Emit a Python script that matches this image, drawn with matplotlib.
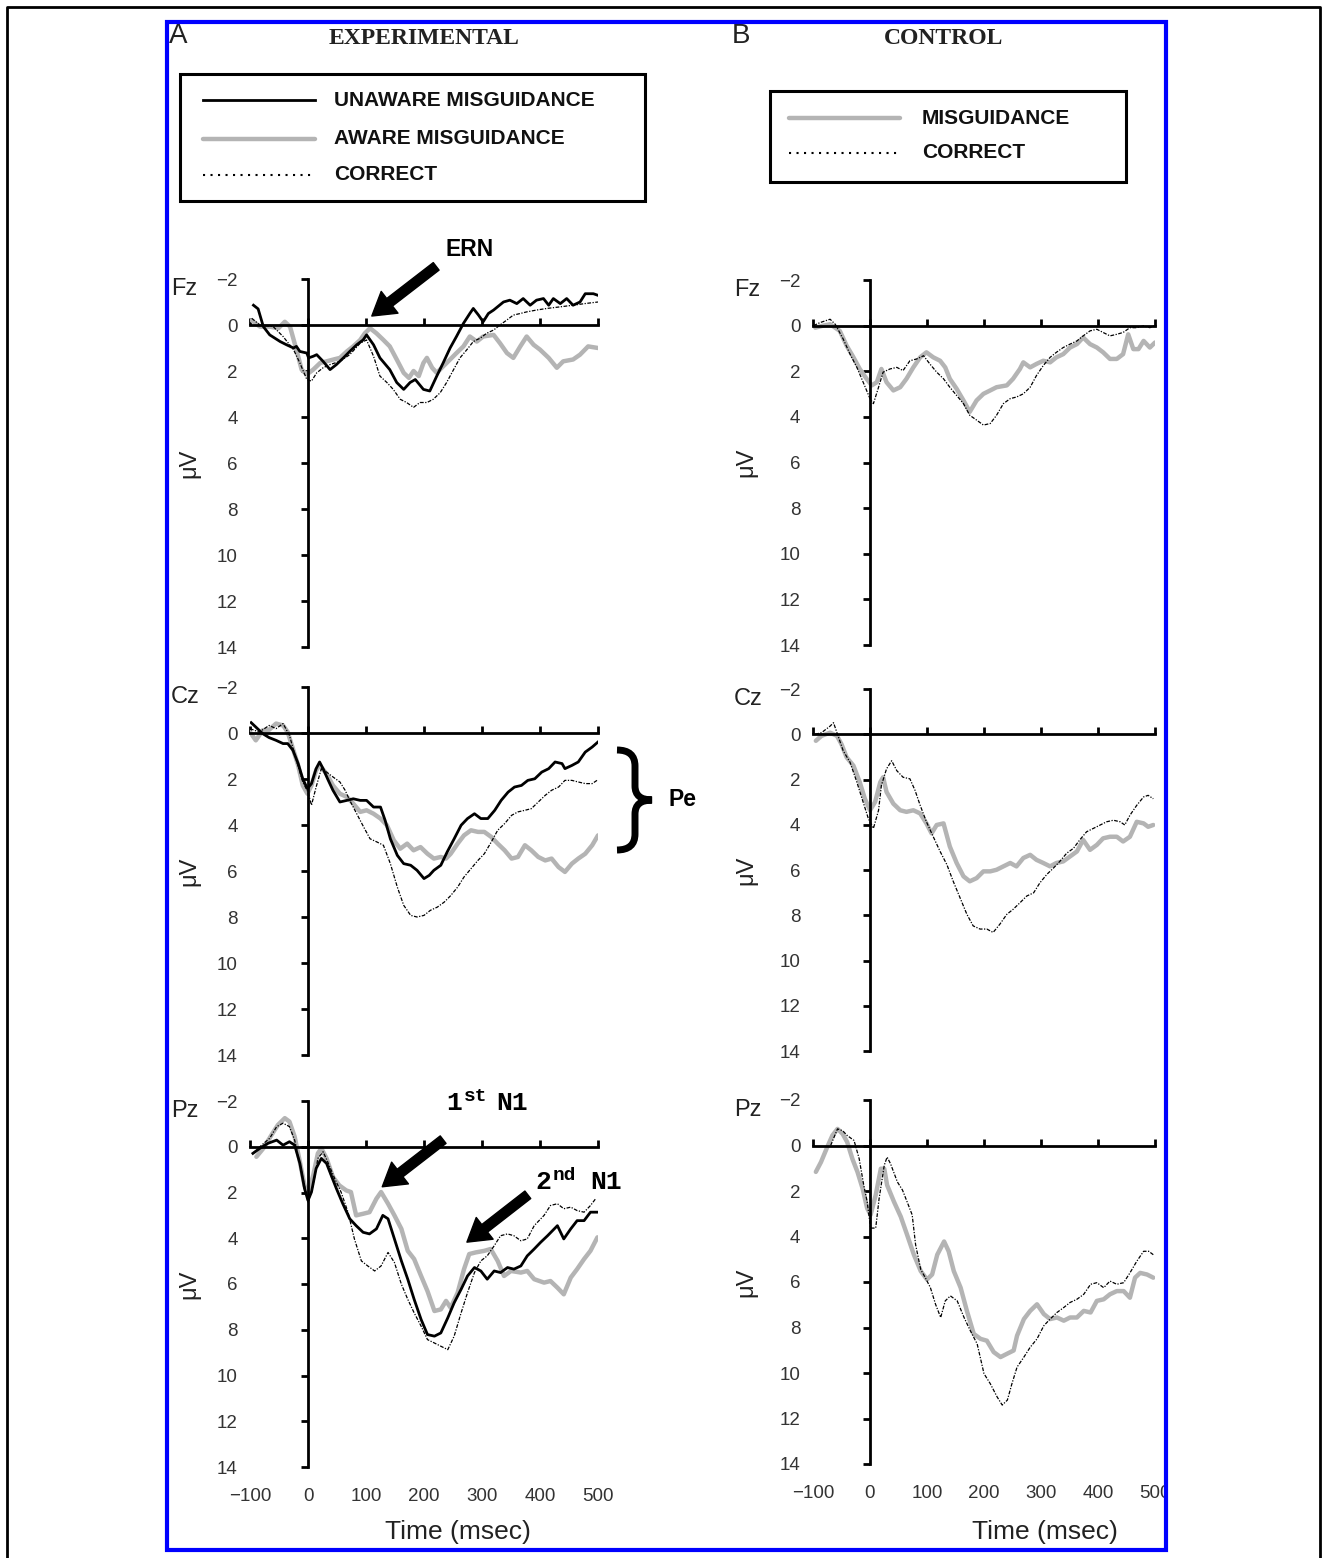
import numpy as np
import matplotlib
matplotlib.use("Agg")
import matplotlib.pyplot as plt
from matplotlib import transforms as mtransforms
from matplotlib.patches import Rectangle, PathPatch
from matplotlib.path import Path
from matplotlib.lines import Line2D

plt.rcParams['font.family'] = ['Liberation Sans', 'DejaVu Sans']

# ---- data: (time in ms, amplitude in uV) ----
x_ticks = [-100, 0, 100, 200, 300, 400, 500]
y_ticks = [-2, 0, 2, 4, 6, 8, 10, 12, 14]

fz_exp_unaware = np.array([(-94,-0.86),(-86,-0.7),(-77,0.07),(-66,0.43),(-48,0.72),(-37,0.86),(-25,1.0),(-20,0.93),(-14,1.15),(-2,1.22),(1,1.43),(9,1.36),(15,1.29),(26,1.58),(38,1.94),(49,1.72),(61,1.43),(72,1.15),(84,0.86),(95,0.65),(101,0.43),(113,0.86),(124,1.43),(141,1.94),(153,2.5),(165,2.8),(176,2.5),(185,2.37),(199,2.8),(210,2.87),(222,2.22),(233,1.65),(245,1.0),(256,0.5),(268,-0.07),(279,-0.5),(285,-0.72),(294,-0.43),(302,-0.14),(311,-0.5),(320,-0.65),(337,-1.0),(348,-1.08),(360,-0.93),(371,-1.15),(383,-0.86),(394,-1.08),(406,-1.15),(415,-0.86),(423,-1.15),(435,-0.93),(446,-1.15),(457,-0.86),(469,-1.0),(478,-1.36),(492,-1.36),(500,-1.29)])
fz_exp_aware = np.array([(-97,-0.2),(-83,0.07),(-66,0.07),(-51,0.14),(-40,-0.14),(-31,0.07),(-20,1.07),(-11,1.94),(-2,2.15),(9,1.94),(21,1.65),(32,1.58),(44,1.5),(55,1.43),(67,1.15),(78,0.93),(90,0.65),(98,0.36),(107,0.14),(118,0.36),(130,0.65),(141,0.93),(153,1.5),(165,2.08),(174,2.3),(182,2.0),(191,2.22),(199,1.65),(205,1.43),(214,1.86),(222,2.08),(233,1.8),(245,1.5),(256,1.22),(268,0.93),(279,0.5),(291,0.72),(302,0.5),(320,0.43),(331,0.79),(343,1.22),(354,1.43),(366,0.93),(377,0.5),(389,0.86),(400,1.07),(415,1.43),(429,1.86),(440,1.58),(457,1.5),(469,1.29),(483,0.93),(500,1.0)])
fz_exp_correct = np.array([(-97,-0.29),(-83,0.0),(-60,0.07),(-43,0.5),(-25,1.07),(-14,1.65),(-2,2.37),(6,2.44),(15,2.08),(26,1.86),(38,1.72),(55,1.58),(72,1.29),(90,0.79),(101,0.65),(113,1.36),(124,2.22),(136,2.5),(147,2.8),(159,3.23),(170,3.37),(182,3.58),(193,3.37),(205,3.37),(216,3.23),(228,2.94),(239,2.5),(251,1.94),(262,1.43),(274,1.07),(285,0.72),(297,0.57),(308,0.36),(320,0.22),(331,0.0),(343,-0.22),(354,-0.43),(366,-0.5),(377,-0.57),(394,-0.65),(412,-0.72),(435,-0.79),(457,-0.86),(477,-0.93),(500,-1.0)])

fz_ctrl_mis = np.array([(-96,0.09),(-82,0.0),(-70,-0.06),(-53,0.23),(-41,0.88),(-29,1.39),(-18,1.9),(-6,2.33),(3,2.62),(12,2.48),(20,1.9),(29,2.48),(41,2.84),(53,2.7),(64,2.33),(76,1.83),(88,1.39),(99,1.17),(111,1.39),(123,1.54),(132,1.83),(140,2.33),(152,2.77),(164,3.28),(175,3.78),(187,3.28),(199,2.99),(211,2.84),(222,2.7),(240,2.62),(251,2.33),(263,1.9),(269,1.61),(281,1.83),(292,1.68),(304,1.54),(316,1.61),(327,1.39),(339,1.25),(351,0.96),(363,0.81),(374,0.52),(386,0.81),(398,0.96),(409,1.17),(421,1.46),(433,1.46),(444,1.25),(453,0.38),(462,1.03),(471,1.03),(480,0.67),(491,0.96),(500,0.74)])
fz_ctrl_correct = np.array([(-99,0.0),(-88,-0.13),(-70,-0.28),(-61,-0.06),(-47,0.59),(-35,1.25),(-23,1.83),(-12,2.48),(0,3.2),(6,3.42),(15,2.7),(23,2.04),(35,1.9),(47,1.83),(58,1.97),(70,1.54),(82,1.46),(94,1.32),(105,1.68),(117,2.04),(129,2.33),(140,2.7),(152,3.06),(164,3.42),(175,3.93),(187,4.14),(199,4.36),(211,4.29),(222,3.93),(234,3.42),(246,3.2),(257,3.13),(269,2.99),(281,2.7),(292,2.19),(304,1.75),(316,1.39),(327,1.17),(339,0.96),(351,0.81),(363,0.67),(374,0.45),(386,0.23),(398,0.16),(409,0.3),(421,0.45),(433,0.38),(444,0.3),(456,0.09),(468,0.09),(480,0.01),(491,0.09),(500,0.0)])

cz_exp_unaware = np.array([(-98,-0.45),(-90,-0.26),(-78,0.03),(-67,0.2),(-55,0.32),(-43,0.46),(-35,0.46),(-26,0.75),(-17,1.33),(-9,1.99),(-1,2.42),(6,2.2),(14,1.55),(20,1.26),(26,1.55),(35,2.06),(43,2.49),(55,3.0),(67,2.93),(78,2.86),(90,2.93),(101,2.93),(113,3.22),(125,3.22),(133,3.8),(142,4.6),(154,5.32),(165,5.68),(177,5.75),(188,5.97),(200,6.33),(209,6.19),(217,5.97),(229,5.75),(240,5.17),(252,4.6),(264,4.01),(275,3.72),(287,3.51),(298,3.72),(310,3.72),(322,3.36),(333,2.93),(345,2.57),(356,2.35),(368,2.28),(379,2.06),(391,1.99),(403,1.7),(415,1.55),(426,1.26),(438,1.33),(443,1.55),(455,1.41),(466,1.26),(478,0.83),(490,0.61),(500,0.39)])
cz_exp_aware = np.array([(-100,-0.04),(-90,0.32),(-78,-0.12),(-67,-0.14),(-55,-0.41),(-43,-0.33),(-35,-0.04),(-26,0.68),(-17,1.41),(-9,2.28),(-1,2.64),(6,2.28),(14,1.62),(20,1.41),(32,1.77),(43,2.28),(55,2.64),(67,2.78),(78,3.07),(90,3.43),(101,3.36),(113,3.51),(125,3.72),(136,4.01),(148,4.67),(159,5.03),(171,4.81),(182,5.1),(194,4.96),(206,5.25),(217,5.46),(229,5.39),(238,5.46),(246,5.25),(258,4.81),(269,4.45),(281,4.23),(293,4.3),(304,4.3),(316,4.52),(327,4.81),(339,5.1),(351,5.46),(362,5.39),(374,4.88),(385,5.1),(397,5.39),(409,5.54),(420,5.46),(432,5.83),(443,6.04),(455,5.68),(466,5.46),(478,5.25),(490,4.88),(500,4.45)])
cz_exp_correct = np.array([(-100,-0.19),(-84,-0.04),(-67,-0.33),(-55,-0.19),(-43,-0.41),(-32,0.1),(-20,1.19),(-9,2.13),(0,2.57),(6,3.14),(14,2.35),(23,1.55),(32,1.7),(43,1.91),(55,2.13),(64,2.49),(72,2.93),(84,3.51),(96,4.09),(107,4.6),(119,4.74),(130,4.88),(142,5.68),(154,6.7),(165,7.49),(177,7.93),(188,8.0),(200,7.93),(211,7.71),(223,7.57),(235,7.35),(246,7.07),(258,6.7),(269,6.26),(281,5.9),(293,5.54),(304,5.25),(316,4.74),(327,4.23),(339,3.94),(351,3.58),(362,3.43),(374,3.36),(385,3.29),(397,3.0),(409,2.71),(420,2.49),(432,2.35),(443,2.06),(455,2.06),(466,2.13),(478,2.2),(490,2.2),(500,2.03)])

cz_ctrl_mis = np.array([(-95,0.29),(-85,0.07),(-70,-0.07),(-58,0.07),(-50,0.44),(-41,1.02),(-29,1.39),(-18,2.12),(-9,2.85),(0,3.36),(9,2.99),(18,2.12),(23,1.9),(29,2.55),(41,3.07),(53,3.36),(64,3.43),(76,3.36),(88,3.5),(99,3.94),(108,4.38),(117,4.01),(129,3.94),(140,4.96),(152,5.69),(164,6.28),(175,6.5),(187,6.36),(199,6.06),(211,6.06),(222,5.99),(234,5.84),(246,5.69),(257,5.84),(269,5.47),(281,5.33),(292,5.55),(304,5.69),(316,5.84),(327,5.69),(339,5.62),(351,5.4),(363,5.18),(374,4.67),(386,5.11),(398,4.89),(409,4.6),(421,4.53),(433,4.53),(444,4.74),(456,4.53),(468,3.87),(480,3.94),(488,4.09),(497,4.01)])
cz_ctrl_correct = np.array([(-96,0.0),(-85,-0.07),(-70,-0.36),(-64,-0.51),(-58,-0.07),(-47,0.73),(-35,1.24),(-23,2.12),(-12,3.0),(-3,3.72),(6,4.16),(15,3.36),(20,2.26),(29,1.53),(38,1.17),(47,1.61),(58,1.9),(70,1.97),(79,2.48),(88,3.14),(99,3.87),(111,4.53),(123,5.18),(135,5.77),(146,6.5),(158,7.23),(170,7.96),(181,8.47),(193,8.61),(205,8.61),(216,8.76),(228,8.39),(240,7.96),(251,7.74),(263,7.45),(275,7.15),(287,7.01),(298,6.57),(310,6.2),(322,5.91),(333,5.62),(345,5.26),(357,5.04),(368,4.67),(380,4.31),(392,4.16),(404,4.01),(415,3.87),(427,3.8),(439,3.87),(447,4.01),(456,3.58),(468,3.14),(480,2.77),(488,2.7),(497,2.85)])

pz_exp_unaware = np.array([(-95,0.29),(-83,0.07),(-69,-0.15),(-54,-0.29),(-43,-0.07),(-32,-0.22),(-23,-0.07),(-14,0.73),(-6,1.83),(0,2.35),(6,1.98),(14,0.95),(23,0.51),(32,0.73),(40,1.25),(49,1.83),(60,2.49),(72,3.15),(83,3.45),(95,3.74),(106,3.81),(118,3.59),(129,3.0),(138,3.15),(149,4.03),(161,4.99),(172,5.79),(183,6.67),(195,7.55),(206,8.21),(218,8.28),(229,8.14),(241,7.48),(252,6.82),(264,6.23),(275,5.65),(287,5.28),(298,5.43),(309,5.79),(321,5.43),(332,5.5),(344,5.28),(355,5.35),(367,5.21),(378,4.77),(390,4.47),(401,4.18),(413,3.89),(430,3.45),(441,4.03),(453,3.59),(464,3.23),(476,3.23),(487,2.86),(499,2.86)])
pz_exp_aware = np.array([(-89,0.44),(-77,0.07),(-63,-0.51),(-52,-0.95),(-40,-1.25),(-32,-1.1),(-23,-0.44),(-14,0.66),(-6,1.69),(0,2.05),(9,1.25),(17,0.29),(23,0.07),(32,0.51),(43,1.32),(54,1.69),(66,1.91),(74,1.98),(83,3.0),(95,2.93),(106,2.86),(118,2.27),(126,1.98),(138,2.49),(149,3.0),(161,3.59),(172,4.55),(183,4.91),(195,5.65),(206,6.31),(218,7.18),(229,7.11),(238,6.74),(246,7.04),(258,6.38),(269,5.35),(278,4.69),(289,4.62),(304,4.55),(315,4.47),(327,4.99),(338,5.65),(350,5.43),(367,5.5),(378,5.43),(390,5.79),(407,5.94),(418,5.87),(430,6.16),(441,6.45),(453,5.72),(464,5.35),(476,4.91),(487,4.55),(499,3.96)])
pz_exp_correct = np.array([(-95,0.29),(-80,-0.07),(-66,-0.37),(-54,-0.88),(-43,-1.03),(-32,-0.88),(-23,-0.29),(-11,1.1),(0,2.42),(9,1.69),(17,0.51),(26,0.22),(34,0.66),(46,1.39),(57,1.98),(69,2.86),(80,4.03),(92,4.99),(103,5.21),(115,5.43),(126,5.21),(138,4.62),(149,5.06),(161,6.01),(172,6.67),(183,7.26),(195,7.84),(206,8.43),(218,8.58),(229,8.72),(241,8.87),(252,8.28),(264,7.26),(275,6.38),(287,5.5),(298,4.99),(309,4.77),(321,4.33),(332,3.89),(344,3.81),(355,3.89),(367,4.11),(378,4.03),(390,3.45),(407,3.0),(418,2.57),(430,2.49),(441,2.71),(453,2.64),(464,2.79),(476,2.86),(487,2.57),(496,2.27)])

pz_ctrl_mis = np.array([(-95,1.16),(-86,0.73),(-75,0.07),(-66,-0.44),(-57,-0.73),(-48,-0.51),(-40,-0.15),(-31,0.58),(-22,1.16),(-13,1.89),(-5,2.76),(1,3.05),(10,2.18),(19,1.02),(25,1.02),(30,1.74),(42,2.47),(54,3.13),(65,3.92),(77,4.8),(89,5.52),(100,5.89),(109,5.67),(118,4.8),(130,4.22),(138,4.65),(147,5.52),(159,6.25),(170,7.27),(182,8.28),(194,8.5),(205,8.58),(217,9.08),(229,9.3),(240,9.16),(252,9.01),(258,8.36),(270,7.63),(281,7.27),(293,6.98),(305,7.41),(316,7.63),(328,7.56),(340,7.7),(351,7.56),(363,7.56),(375,7.27),(387,7.34),(398,6.83),(410,6.76),(421,6.54),(433,6.4),(445,6.4),(456,6.69),(465,5.81),(474,5.6),(486,5.67),(497,5.81)])
pz_ctrl_correct = np.array([(-69,0.0),(-57,-0.73),(-48,-0.65),(-40,-0.44),(-28,-0.22),(-19,0.58),(-11,1.74),(-5,2.47),(1,3.63),(10,3.63),(16,2.33),(25,0.87),(30,0.51),(36,0.8),(48,1.6),(57,1.96),(65,2.47),(74,3.05),(80,4.36),(89,5.45),(97,5.81),(106,6.25),(115,6.98),(124,7.56),(132,6.83),(141,6.61),(153,6.83),(165,7.56),(176,8.14),(188,8.72),(200,10.03),(211,10.47),(223,11.05),(232,11.41),(241,11.19),(249,10.47),(258,9.74),(270,9.3),(281,8.87),(293,8.5),(305,7.92),(316,7.63),(328,7.34),(340,7.12),(351,6.9),(363,6.76),(375,6.54),(387,6.1),(398,6.03),(410,6.25),(421,5.96),(433,6.1),(445,6.03),(456,5.6),(468,5.09),(480,4.65),(489,4.65),(497,4.8)])

# ---- styles ----
W, H = 1328, 1558
fig = plt.figure(figsize=(W / 100, H / 100), dpi=100)
fig.patch.set_facecolor('white')
# transform in reference pixel coordinates (origin top-left)
px = mtransforms.Affine2D().scale(1 / W, -1 / H).translate(0, 1) + fig.transFigure

GRAY = '#b4b4b4'
sty_unaware = dict(color='black', lw=2.0, zorder=3)
sty_aware = dict(color=GRAY, lw=3.2, zorder=2, solid_capstyle='round')
sty_correct = dict(color='black', lw=0.9, ls=(0, (3, 1.2, 1, 1.2)), zorder=4)
sty_legend_dot = dict(color='black', lw=1.5, ls=(0, (1, 2.6)))


def make_axes(left, top, right, bottom, name, xlabels):
    ax = fig.add_axes([left / W, 1 - bottom / H, (right - left) / W, (bottom - top) / H])
    ax.set_xlim(-100, 500)
    ax.set_ylim(14, -2)
    ax.patch.set_alpha(0)
    ax.spines[['top', 'right']].set_visible(False)
    ax.spines['left'].set_position(('data', 0))
    ax.spines['bottom'].set_position(('data', 0))
    ax.spines['left'].set_linewidth(2.0)
    ax.spines['bottom'].set_linewidth(2.0)
    ax.set_xticks(x_ticks)
    ax.set_yticks(y_ticks)
    ax.tick_params(axis='x', direction='in', length=5, width=2, labelbottom=False)
    ax.tick_params(axis='y', direction='out', length=5, width=2, labelleft=False)
    sy = ax.secondary_yaxis('left')
    sy.set_yticks(y_ticks)
    sy.spines['left'].set_visible(False)
    sy.tick_params(length=0, pad=9, labelsize=13.5, labelcolor='#333333')
    if xlabels:
        sx = ax.secondary_xaxis('bottom')
        sx.set_xticks(x_ticks)
        sx.spines['bottom'].set_visible(False)
        sx.tick_params(length=0, pad=15, labelsize=13.5, labelcolor='#333333')
    ax.set_ylabel('μV', fontsize=17, color='#222222')
    ax.yaxis.set_label_coords(-(left - (200 if left < 500 else 757)) / (right - left), 0.5)
    fig.text(171 if left < 500 else 734, top + 10, name, transform=px,
             fontsize=17, va='center', ha='left', color='#222222')
    return ax


ax_fz_e = make_axes(250, 279, 598, 647, 'Fz', False)
ax_cz_e = make_axes(250, 687, 598, 1055, 'Cz', False)
ax_pz_e = make_axes(250, 1101, 598, 1467, 'Pz', True)
ax_fz_c = make_axes(813, 280, 1155, 645, 'Fz', False)
ax_cz_c = make_axes(813, 689, 1155, 1051, 'Cz', False)
ax_pz_c = make_axes(813, 1100, 1155, 1464, 'Pz', True)

for ax, un, aw, co in [(ax_fz_e, fz_exp_unaware, fz_exp_aware, fz_exp_correct),
                       (ax_cz_e, cz_exp_unaware, cz_exp_aware, cz_exp_correct),
                       (ax_pz_e, pz_exp_unaware, pz_exp_aware, pz_exp_correct)]:
    ax.plot(aw[:, 0], aw[:, 1], **sty_aware)
    ax.plot(un[:, 0], un[:, 1], **sty_unaware)
    ax.plot(co[:, 0], co[:, 1], **sty_correct)

for ax, mi, co in [(ax_fz_c, fz_ctrl_mis, fz_ctrl_correct),
                   (ax_cz_c, cz_ctrl_mis, cz_ctrl_correct),
                   (ax_pz_c, pz_ctrl_mis, pz_ctrl_correct)]:
    ax.plot(mi[:, 0], mi[:, 1], **sty_aware)
    ax.plot(co[:, 0], co[:, 1], **sty_correct)

# ---- annotations ----
arrow = dict(arrowstyle='simple,head_length=0.9,head_width=1.1,tail_width=0.38',
             fc='black', ec='black', shrinkA=0, shrinkB=0, mutation_scale=18)
ax_fz_e.annotate('', xy=(110, -0.39), xytext=(221, -2.55), arrowprops=arrow, annotation_clip=False)
ax_pz_e.annotate('', xy=(128, 1.75), xytext=(233, -0.31), arrowprops=arrow, annotation_clip=False)
ax_pz_e.annotate('', xy=(274, 4.17), xytext=(379, 2.1), arrowprops=arrow, annotation_clip=False)

fig.text(470, 250, 'ERN', transform=px, fontsize=16.5, fontweight='bold', ha='center', va='center')
fig.text(683, 800, 'Pe', transform=px, fontsize=16.5, fontweight='bold', ha='center', va='center')
mono = dict(transform=px, family='Liberation Mono', fontweight='bold', va='baseline')
fig.text(446, 1110, '1', fontsize=19, **mono)
fig.text(464, 1101, 'st', fontsize=14, **mono)
fig.text(496, 1110, 'N1', fontsize=19, **mono)
fig.text(535, 1189, '2', fontsize=19, **mono)
fig.text(553, 1180, 'nd', fontsize=14, **mono)
fig.text(590, 1189, 'N1', fontsize=19, **mono)

brace = Path([(617, 750), (635, 750), (635, 766), (635, 786), (635, 800), (652, 800),
              (635, 800), (635, 814), (635, 834), (635, 850), (617, 850)],
             [Path.MOVETO, Path.CURVE3, Path.CURVE3, Path.LINETO, Path.CURVE3, Path.CURVE3,
              Path.CURVE3, Path.CURVE3, Path.LINETO, Path.CURVE3, Path.CURVE3])
fig.add_artist(PathPatch(brace, transform=px, fill=False, lw=5, ec='black', capstyle='butt'))

# ---- titles and axis titles ----
fig.text(424, 38, 'EXPERIMENTAL', transform=px, family='Liberation Serif', fontweight='bold',
         fontsize=17, ha='center', va='center', color='#222222')
fig.text(944, 38, 'CONTROL', transform=px, family='Liberation Serif', fontweight='bold',
         fontsize=17, ha='center', va='center', color='#222222')
fig.text(169, 36, 'A', transform=px, fontsize=20, ha='left', va='center', color='#222222')
fig.text(732, 36, 'B', transform=px, fontsize=20, ha='left', va='center', color='#222222')
fig.text(458, 1532, 'Time (msec)', transform=px, fontsize=19, ha='center', va='center', color='#222222')
fig.text(1045, 1532, 'Time (msec)', transform=px, fontsize=19, ha='center', va='center', color='#222222')

# ---- legends ----
fig.add_artist(Rectangle((180, 74), 465, 127, transform=px, fill=False, lw=2.2, ec='black'))
for yy, sty, lab in [(100, sty_unaware, 'UNAWARE MISGUIDANCE'),
                     (139, sty_aware, 'AWARE MISGUIDANCE'),
                     (175, sty_legend_dot, 'CORRECT')]:
    fig.add_artist(Line2D([203, 315], [yy, yy], transform=px, **{k: v for k, v in sty.items() if k != 'zorder'}))
    fig.text(334, yy, lab, transform=px, fontsize=15, fontweight='bold', va='center', color='#111111')

fig.add_artist(Rectangle((770, 91), 356, 91, transform=px, fill=False, lw=2.2, ec='black'))
for yy, sty, lab in [(118, sty_aware, 'MISGUIDANCE'),
                     (153, sty_legend_dot, 'CORRECT')]:
    fig.add_artist(Line2D([789, 900], [yy, yy], transform=px, **{k: v for k, v in sty.items() if k != 'zorder'}))
    fig.text(922, yy, lab, transform=px, fontsize=15, fontweight='bold', va='center', color='#111111')

# ---- frames ----
fig.add_artist(Rectangle((1168, 24), 148, 1524, transform=px, fc='white', ec='none', zorder=9))
fig.add_artist(Rectangle((167, 22), 999, 1528, transform=px, fill=False, lw=3, ec='#0000ff', zorder=10))
fig.add_artist(Line2D([7, 7, 1320, 1320], [1558, 7, 7, 1558], transform=px, color='black', lw=2, zorder=10))

fig.savefig('out.png', dpi=100)
